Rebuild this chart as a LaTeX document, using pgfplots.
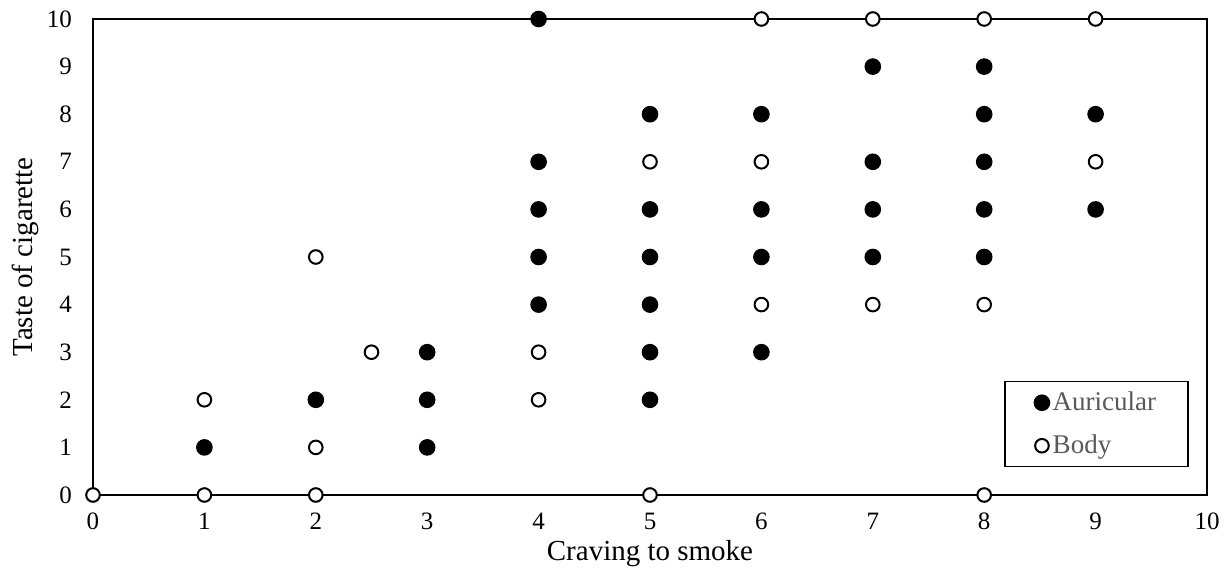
\documentclass[border=0pt]{standalone}
\usepackage{fontspec}
\setmainfont{Liberation Serif}
\usepackage{pgfplots}
\pgfplotsset{compat=1.18}
\definecolor{legendgray}{HTML}{595959}
\begin{document}
\begin{tikzpicture}
\useasboundingbox (-46.5pt,-39pt) rectangle (567.5pt,247.5pt);
\begin{axis}[
  at={(0pt,0pt)}, anchor=south west,
  width=557pt, height=238pt, scale only axis,
  xmin=0, xmax=10, ymin=0, ymax=10,
  xtick={0,...,10}, ytick={0,...,10},
  major tick length=0pt,
  axis line style={line width=1pt, black},
  clip=false,
  /pgf/number format/assume math mode=true,
  tick label style={font=\fontsize{12.5}{14}\selectfont, black},
  xticklabel style={yshift=-5.5pt},
  yticklabel style={xshift=-7pt},
  label style={font=\fontsize{14.5}{17}\selectfont},
  xlabel={Craving to smoke},
  ylabel={Taste of cigarette},
  xlabel style={at={(axis description cs:0.5,-0.124)}, anchor=center},
  ylabel style={at={(axis description cs:-0.061,0.5)}, anchor=center, rotate=0},
  legend image code/.code={\draw[mark repeat=2,mark phase=2,#1] plot coordinates {(-4pt,0pt)(0pt,0pt)(4pt,0pt)};},
  legend style={at={(0.9838,0.2395)}, anchor=north east, draw=black, line width=0.75pt,
    inner xsep=14.5pt, inner ysep=3pt, row sep=6.5pt,
    font=\fontsize{13.5}{15}\selectfont, text=legendgray,
    nodes={inner xsep=1.5pt, inner ysep=1.5pt, text height=10pt, text depth=2pt}},
  legend cell align=left,
]
\addplot[only marks, mark=*, mark size=3.9pt, mark options={fill=black, draw=black, line width=0.5pt}]
coordinates {
(1,1)(2,2)(3,1)(3,2)(3,3)(4,4)(4,5)(4,6)(4,7)(4,10)
(5,2)(5,3)(5,4)(5,5)(5,6)(5,8)(6,3)(6,5)(6,6)(6,8)
(7,5)(7,6)(7,7)(7,9)(8,5)(8,6)(8,7)(8,8)(8,9)(9,6)(9,8)
};
\addlegendentry{Auricular}
\addplot[only marks, mark=*, mark size=3.4pt, mark options={fill=white, draw=black, line width=1pt}]
coordinates {
(0,0)(1,0)(1,2)(2,0)(2,1)(2,5)(2.5,3)(4,2)(4,3)(5,0)(5,7)
(6,4)(6,7)(6,10)(7,4)(7,10)(8,0)(8,4)(8,10)(9,7)(9,10)
};
\addlegendentry{Body}
\end{axis}
\end{tikzpicture}
\end{document}
